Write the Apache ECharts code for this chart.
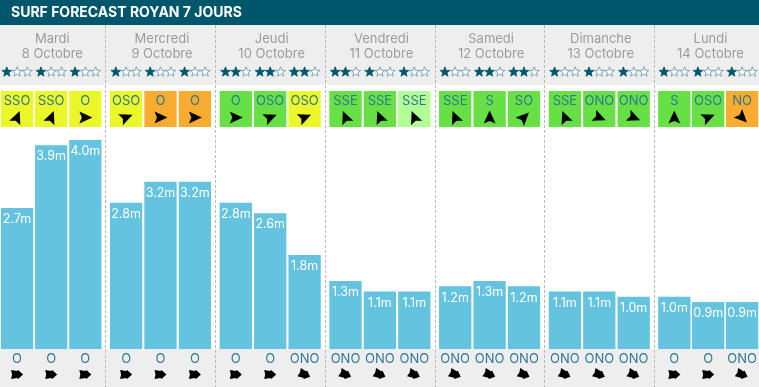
<!DOCTYPE html>
<html>
<head>
<meta charset="utf-8">
<style>html,body{margin:0;padding:0;background:#fff}#main{width:759px;height:387px}</style>
<script src="https://cdn.jsdelivr.net/npm/echarts@6/dist/echarts.min.js"></script>
</head>
<body>
<div id="main"></div>
<script>
var chartTitle = 'SURF FORECAST ROYAN 7 JOURS';
var dayNames = ['Mardi', 'Mercredi', 'Jeudi', 'Vendredi', 'Samedi', 'Dimanche', 'Lundi'];
var dayDates = ['8 Octobre', '9 Octobre', '10 Octobre', '11 Octobre', '12 Octobre', '13 Octobre', '14 Octobre'];
var heights = [[2.7, 3.9, 4.0], [2.8, 3.2, 3.2], [2.8, 2.6, 1.8], [1.3, 1.1, 1.1], [1.2, 1.3, 1.2], [1.1, 1.1, 1.0], [1.0, 0.9, 0.9]];
var stars = [[1, 1, 1], [1, 1, 1], [2, 2, 2], [2, 1, 1], [1, 2, 2], [1, 1, 1], [1, 1, 1]];
var windDirs = [['SSO', 'SSO', 'O'], ['OSO', 'O', 'O'], ['O', 'OSO', 'OSO'], ['SSE', 'SSE', 'SSE'], ['SSE', 'S', 'SO'], ['SSE', 'ONO', 'ONO'], ['S', 'OSO', 'NO']];
// 0 vert clair, 1 vert, 2 jaune, 3 orange
var windLevels = [[2, 2, 2], [2, 3, 3], [1, 1, 2], [1, 1, 0], [1, 1, 1], [1, 1, 1], [1, 1, 3]];
var swellDirs = [['O', 'O', 'O'], ['O', 'O', 'O'], ['O', 'O', 'ONO'], ['ONO', 'ONO', 'ONO'], ['ONO', 'ONO', 'ONO'], ['ONO', 'ONO', 'ONO'], ['O', 'O', 'ONO']];
var slots = ['1', '2', '3'];

var levelColors = ['#b2ff96', '#66e044', '#ecf72a', '#f9ac2f'];
// sens de la fleche : le vent vient de la direction indiquee
var dirAngles = { S: 0, SSO: 22.5, SO: 45, OSO: 67.5, O: 90, ONO: 112.5, NO: 135, SSE: 337.5 };

var FONT = 'Inter, "Open Sans", sans-serif';
var TEXT_BLUE = '#2f7896';
var DAY_W = 109.7, SLOT_W = 34.4, BAR_W = 32.3, FIRST_X = -0.8;

var myChart = echarts.init(document.getElementById('main'));

function starPoints(cx, cy, r) {
	var pts = [];
	for (var i = 0; i < 10; i++) {
		var rr = i % 2 ? r * 0.42 : r;
		var a = -Math.PI / 2 + i * Math.PI / 5;
		pts.push([cx + rr * Math.cos(a), cy + rr * Math.sin(a)]);
	}
	return pts;
}

function renderRows(day) {
	return function (params, api) {
		var i = params.dataIndex;
		var cx = api.coord([i, 0])[0];
		var kids = [];

		// etoiles
		for (var s = 0; s < 3; s++) {
			var on = s < stars[day][i];
			kids.push({
				type: 'polygon',
				shape: { points: starPoints(cx - 10.3 + s * 10.3, 72, 5.2) },
				style: { fill: on ? '#00566b' : '#fff', stroke: on ? '#00566b' : '#5f97a6', lineWidth: 0.8 }
			});
		}

		// case du vent
		kids.push({
			type: 'rect',
			shape: { x: cx - BAR_W / 2, y: 91, width: BAR_W, height: 36 },
			style: { fill: levelColors[windLevels[day][i]] }
		});
		kids.push({
			type: 'text',
			style: { text: windDirs[day][i], x: cx, y: 101, align: 'center', verticalAlign: 'middle', fill: TEXT_BLUE, font: '13px ' + FONT }
		});
		kids.push({
			type: 'polygon',
			x: cx, y: 117.5,
			rotation: -dirAngles[windDirs[day][i]] * Math.PI / 180,
			shape: { points: [[0, -7], [6, 6], [0, 3.5], [-6, 6]] },
			style: { fill: '#000' }
		});

		// houle en bas
		kids.push({
			type: 'text',
			style: { text: swellDirs[day][i], x: cx, y: 359, align: 'center', verticalAlign: 'middle', fill: TEXT_BLUE, font: '13px ' + FONT }
		});
		kids.push({
			type: 'polygon',
			x: cx, y: 374.5,
			rotation: (90 - dirAngles[swellDirs[day][i]]) * Math.PI / 180,
			shape: { points: [[-6, -4.5], [0, -3.5], [1, -4.5], [6, 0], [1, 4.5], [0, 3.5], [-6, 4.5], [-5, 0]] },
			style: { fill: '#000' }
		});
		return { type: 'group', children: kids };
	};
}

var grids = [], xAxes = [], yAxes = [], series = [], titles = [];
var graphics = [
	{ type: 'rect', shape: { x: 0, y: 0, width: 759, height: 25 }, style: { fill: '#00566b' } },
	{ type: 'rect', shape: { x: 0, y: 25, width: 759, height: 60 }, style: { fill: '#eeeeee' } },
	{ type: 'rect', shape: { x: 0, y: 349, width: 759, height: 38 }, style: { fill: '#eeeeee' } }
];

titles.push({
	text: chartTitle,
	left: 6, top: -1,
	textStyle: { color: '#fff', fontFamily: FONT, fontSize: 14, fontWeight: 'bold', lineHeight: 18 }
});

dayNames.forEach(function (name, d) {
	var left = FIRST_X + d * DAY_W;
	grids.push({ left: left, top: 140, width: SLOT_W * 3, height: 209 });
	xAxes.push({ type: 'category', gridIndex: d, data: slots, show: false });
	yAxes.push({ type: 'value', gridIndex: d, min: 0, max: 4, show: false });
	series.push({
		type: 'bar',
		xAxisIndex: d,
		yAxisIndex: d,
		data: heights[d],
		barWidth: BAR_W,
		itemStyle: { color: '#64c3df' },
		label: {
			show: true,
			position: 'insideTop',
			distance: 5,
			color: '#fff',
			fontFamily: FONT,
			fontSize: 12.5,
			formatter: function (p) { return p.value.toFixed(1) + 'm'; }
		}
	});
	series.push({
		type: 'custom',
		xAxisIndex: d,
		yAxisIndex: d,
		data: slots.map(function (s, i) { return [i, 0]; }),
		clip: false,
		renderItem: renderRows(d)
	});
	titles.push({
		text: name + '\n' + dayDates[d],
		left: left + SLOT_W * 1.5 - 3.5,
		top: 26.5,
		textAlign: 'center',
		textStyle: { color: '#9c9c9c', fontFamily: FONT, fontSize: 13, fontWeight: 'normal', lineHeight: 15 }
	});
	if (d > 0) {
		var sx = Math.round(left - 3.5) + 0.5;
		graphics.push({
			type: 'line',
			shape: { x1: sx, y1: 25, x2: sx, y2: 387 },
			style: { stroke: '#b9b9b9', lineWidth: 1, lineDash: [3, 2] }
		});
	}
});

var option = {
	animation: false,
	title: titles,
	grid: grids,
	xAxis: xAxes,
	yAxis: yAxes,
	graphic: graphics,
	series: series
};

myChart.setOption(option);
</script>
</body>
</html>
